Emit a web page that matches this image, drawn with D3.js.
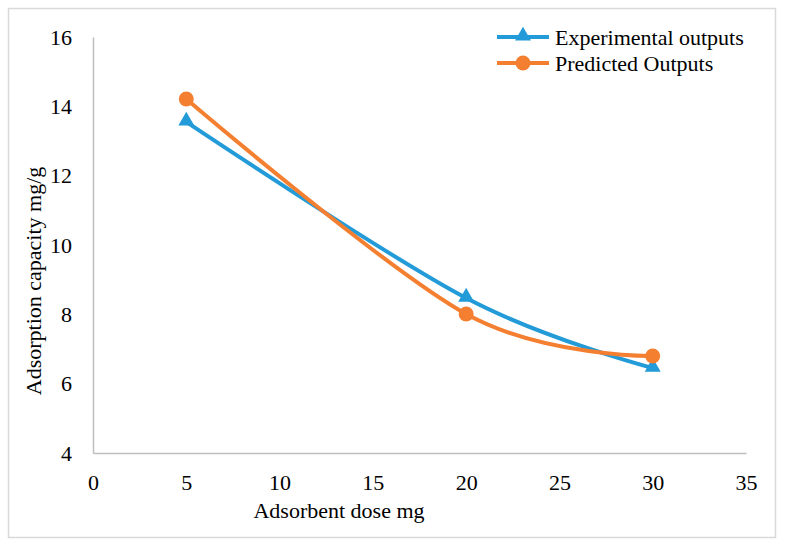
<!DOCTYPE html>
<html><head><meta charset="utf-8">
<script src="https://cdn.jsdelivr.net/npm/d3@7"></script>
<style>html,body{margin:0;padding:0;background:#fff;}
svg text{font-family:"Liberation Serif","Times New Roman",Times,"Liberation Sans",Arial,sans-serif;}</style>
</head><body>
<svg id="c" width="788" height="547"></svg>
<script>
const doses = [5, 20, 30];
const experimental = [13.55, 8.47, 6.45];
const predicted = [14.21, 8.01, 6.80];
const xTicks = [0, 5, 10, 15, 20, 25, 30, 35];
const yTicks = [4, 6, 8, 10, 12, 14, 16];
const seriesNames = ["Experimental outputs", "Predicted Outputs"];
const colors = ["#229bd8", "#f47f30"];

const svg = d3.select("#c");
svg.append("rect").attr("x", 8.5).attr("y", 8.5).attr("width", 767).attr("height", 529)
  .attr("fill", "#fff").attr("stroke", "#d9d9d9").attr("stroke-width", 1.5);

const x = d3.scaleLinear().domain([0, 35]).range([93, 746]);
const y = d3.scaleLinear().domain([4, 16]).range([453, 37]);

const xAxis = svg.append("g").attr("transform", "translate(0,453)")
  .call(d3.axisBottom(x).tickValues(xTicks).tickSize(0).tickPadding(21));
const yAxis = svg.append("g").attr("transform", "translate(93,0)")
  .call(d3.axisLeft(y).tickValues(yTicks).tickSize(0).tickPadding(21));
[xAxis, yAxis].forEach(a => {
  a.attr("font-family", null);
  a.select(".domain").attr("stroke", "#bfbfbf").attr("stroke-width", 1.5);
  a.selectAll("text").attr("font-size", 22).attr("fill", "#000");
});

svg.append("text").attr("x", 339).attr("y", 518).attr("text-anchor", "middle")
  .attr("font-size", 22).text("Adsorbent dose mg");
svg.append("text").attr("transform", "translate(41,281) rotate(-90)").attr("text-anchor", "middle")
  .attr("font-size", 22).text("Adsorption capacity mg/g");

const line = d3.line().x(d => x(d[0])).y(d => y(d[1])).curve(d3.curveCatmullRom.alpha(0));
const data = [experimental, predicted].map(s => doses.map((d, i) => [d, s[i]]));
const tri = d3.symbol().type(d3.symbolTriangle).size(110);

data.forEach((pts, k) => {
  svg.append("path").datum(pts).attr("d", line).attr("fill", "none")
    .attr("stroke", colors[k]).attr("stroke-width", 4);
});
data.forEach((pts, k) => {
  const g = svg.append("g");
  pts.forEach(p => {
    if (k === 0) g.append("path").attr("d", tri).attr("transform", `translate(${x(p[0])},${y(p[1]) - 1})`).attr("fill", colors[0]);
    else g.append("circle").attr("cx", x(p[0])).attr("cy", y(p[1])).attr("r", 7.5).attr("fill", colors[1]);
  });
});

// legend
seriesNames.forEach((name, k) => {
  const ly = 37 + k * 26;
  svg.append("line").attr("x1", 497).attr("x2", 549).attr("y1", ly).attr("y2", ly)
    .attr("stroke", colors[k]).attr("stroke-width", 4);
  if (k === 0) svg.append("path").attr("d", tri).attr("transform", `translate(523,${ly - 1})`).attr("fill", colors[0]);
  else svg.append("circle").attr("cx", 523).attr("cy", ly).attr("r", 7.5).attr("fill", colors[1]);
  svg.append("text").attr("x", 555).attr("y", ly + 8).attr("font-size", 22).text(name);
});
</script>
</body></html>
